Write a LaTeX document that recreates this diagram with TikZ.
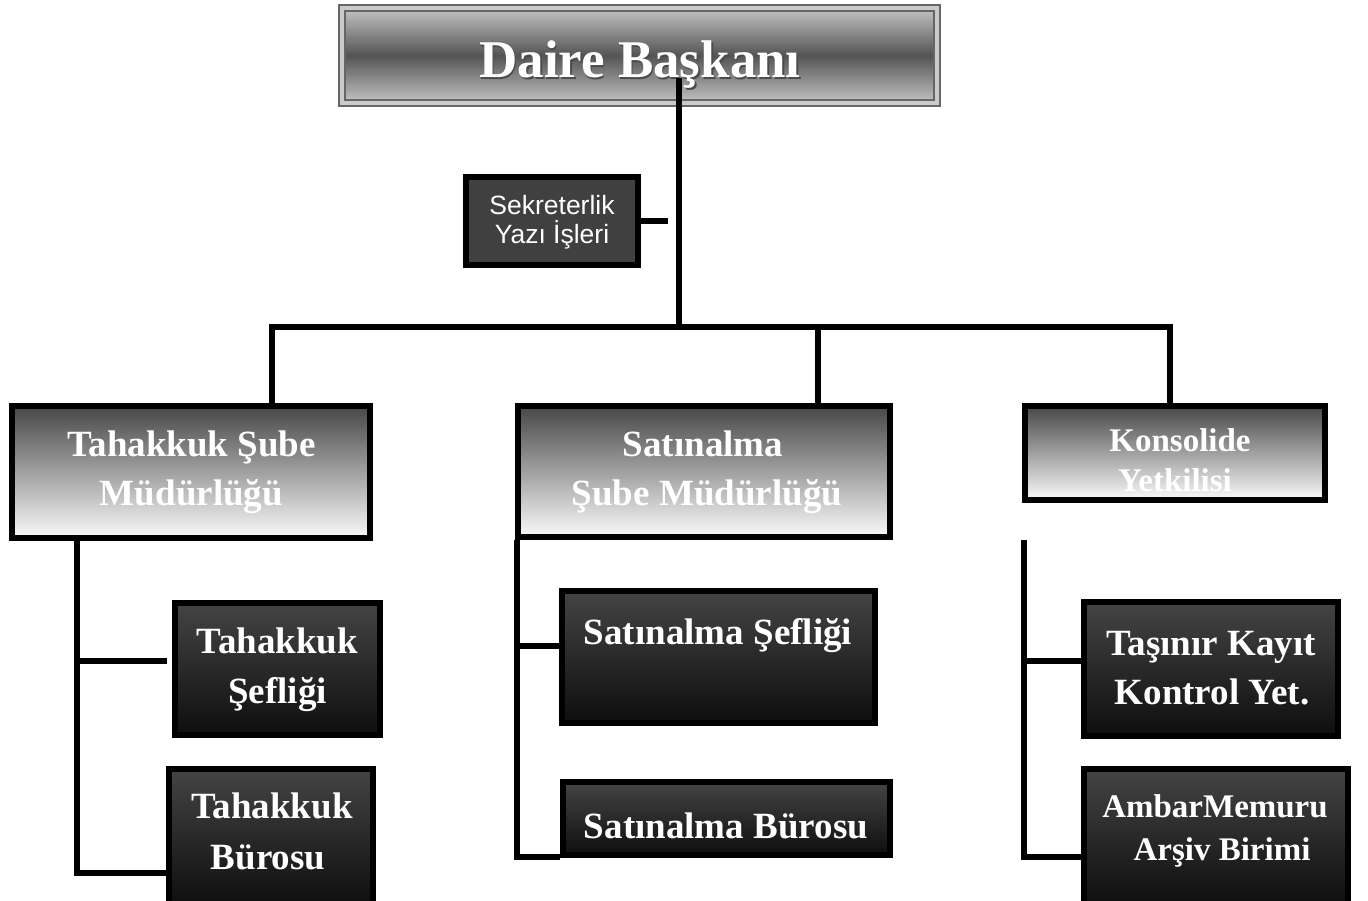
\documentclass[tikz,border=0pt]{standalone}
\usepackage{fontspec}
\setmainfont{Liberation Serif}
\newfontfamily\sekfont{Liberation Sans}
\definecolor{lgtop}{HTML}{474747}
\definecolor{lgbot}{HTML}{FAFAFA}
\definecolor{dktop}{HTML}{444444}
\definecolor{dkbot}{HTML}{0E0E0E}
\definecolor{sekfill}{HTML}{404040}
\definecolor{frame}{HTML}{666666}
\definecolor{toplight}{HTML}{BDBDBD}
\definecolor{topdark}{HTML}{545454}
\begin{document}
\begin{tikzpicture}[x=1pt,y=-1pt,
  con/.style={line width=6pt,line join=miter},
  lightbox/.style={draw=black,line width=6pt,inner sep=0pt,top color=lgtop,bottom color=lgbot},
  darkbox/.style={draw=black,line width=6pt,inner sep=0pt,top color=dktop,bottom color=dkbot},
  sekbox/.style={draw=black,line width=6pt,fill=sekfill,inner sep=0pt},
  wt/.style={text=white,anchor=base,inner sep=0pt},
  big/.style={wt,font=\fontsize{37}{41}\selectfont\bfseries},
  mid/.style={wt,font=\fontsize{33}{37}\selectfont\bfseries},
  sektext/.style={wt,font=\fontsize{26.5}{30}\sekfont},
]
\useasboundingbox (0,0) rectangle (1368,901);
\fill[white] (0,0) rectangle (1368,901);

% top box
\node[draw=frame,line width=2pt,fill=toplight!80!white,minimum width=601pt,minimum height=101pt,inner sep=0pt] (top) at (639.5,55.5) {};
\node[draw=frame,line width=2pt,top color=toplight,bottom color=toplight,middle color=topdark,minimum width=589pt,minimum height=89pt,inner sep=0pt] (topin) at (639.5,55.5) {};
\node[wt,text=black!70,font=\fontsize{53}{58}\selectfont\bfseries] (ttops) at (641.5,79.5) {Daire Başkanı};
\node[wt,font=\fontsize{53}{58}\selectfont\bfseries] (ttop) at (640,78) {Daire Başkanı};

% connector points
\coordinate (Ts) at (679,78);
\coordinate (bus) at (679,327);
\coordinate (d1) at (272,327);
\coordinate (d2) at (818,327);
\coordinate (d3) at (1170,327);
\coordinate (sekend) at (668,221);
\coordinate (Lx) at (77,873);
\coordinate (La) at (77,661);
\coordinate (Le) at (167,661);
\coordinate (Mx) at (516.5,857);
\coordinate (Ma) at (516.5,646);
\coordinate (Me) at (560,646);
\coordinate (Rt) at (1023.5,540);
\coordinate (Rx) at (1023.5,857);
\coordinate (Ra) at (1023.5,661);
\coordinate (Re) at (1082,661);

% box positions (named)
\path
  node[sekbox,minimum width=172pt,minimum height=88pt] (sek) at (552,221) {}
  node[lightbox,minimum width=358pt,minimum height=132pt] (tsm) at (191,472) {}
  node[lightbox,minimum width=372pt,minimum height=131pt] (ssm) at (704,471.5) {}
  node[lightbox,minimum width=300pt,minimum height=94pt] (kon) at (1175,453) {}
  node[darkbox,minimum width=205pt,minimum height=132pt] (tse) at (277.5,669) {}
  node[darkbox,minimum width=204pt,minimum height=136pt] (tbu) at (271,837) {}
  node[darkbox,minimum width=313pt,minimum height=132pt] (sse) at (718.5,657) {}
  node[darkbox,minimum width=327pt,minimum height=73pt] (sbu) at (726.5,818.5) {}
  node[darkbox,minimum width=254pt,minimum height=134pt] (tkk) at (1211,669) {}
  node[darkbox,minimum width=264pt,minimum height=136pt] (amb) at (1216,837) {};

% connectors
\draw[con] (Ts) -- (bus);
\draw[con] (sek.east) -- (sekend);
\draw[con] (d1 |- tsm.north) -- (d1) -- (d3) -- (d3 |- kon.north);
\draw[con] (d2) -- (d2 |- ssm.north);
\draw[con] (tsm.south -| Lx) -- (Lx) -- (Lx -| tbu.west);
\draw[con] (La) -- (Le);
\draw[con] (ssm.south -| Mx) -- (Mx) -- (Mx -| sbu.west);
\draw[con] (Ma) -- (Me);
\draw[con] (Rt) -- (Rx) -- (Rx -| amb.west);
\draw[con] (Ra) -- (Re);

% boxes over connectors
\node[sekbox,minimum width=172pt,minimum height=88pt] at (sek) {};
\node[lightbox,minimum width=358pt,minimum height=132pt] at (tsm) {};
\node[lightbox,minimum width=372pt,minimum height=131pt] at (ssm) {};
\node[lightbox,minimum width=300pt,minimum height=94pt] at (kon) {};
\node[darkbox,minimum width=205pt,minimum height=132pt] at (tse) {};
\node[darkbox,minimum width=204pt,minimum height=136pt] at (tbu) {};
\node[darkbox,minimum width=313pt,minimum height=132pt] at (sse) {};
\node[darkbox,minimum width=327pt,minimum height=73pt] at (sbu) {};
\node[darkbox,minimum width=254pt,minimum height=134pt] at (tkk) {};
\node[darkbox,minimum width=264pt,minimum height=136pt] at (amb) {};

% texts
\node[sektext] (sek1) at (552,215) {Sekreterlik};
\node[sektext] (sek2) at (552,244) {Yazı İşleri};

\node[big] (tsm1) at (191.5,456) {Tahakkuk Şube};
\node[big] (tsm2) at (191.5,505) {Müdürlüğü};
\node[big] (ssm1) at (703,456) {Satınalma};
\node[big] (ssm2) at (707,505) {Şube Müdürlüğü};
\node[mid] (kon1) at (1180,451) {Konsolide};
\node[mid] (kon2) at (1175,491) {Yetkilisi};
\node[big] (tse1) at (277.5,653) {Tahakkuk};
\node[big] (tse2) at (277.5,703) {Şefliği};
\node[big] (tbu1) at (272,818) {Tahakkuk};
\node[big] (tbu2) at (268,869) {Bürosu};
\node[big] (sse1) at (718,644) {Satınalma Şefliği};
\node[big] (sbu1) at (726,838) {Satınalma Bürosu};
\node[big] (tkk1) at (1211,655) {Taşınır Kayıt};
\node[big] (tkk2) at (1212,704) {Kontrol Yet.};
\node[mid] (amb1) at (1215,817) {AmbarMemuru};
\node[mid] (amb2) at (1222,860) {Arşiv Birimi};
\end{tikzpicture}
\end{document}
